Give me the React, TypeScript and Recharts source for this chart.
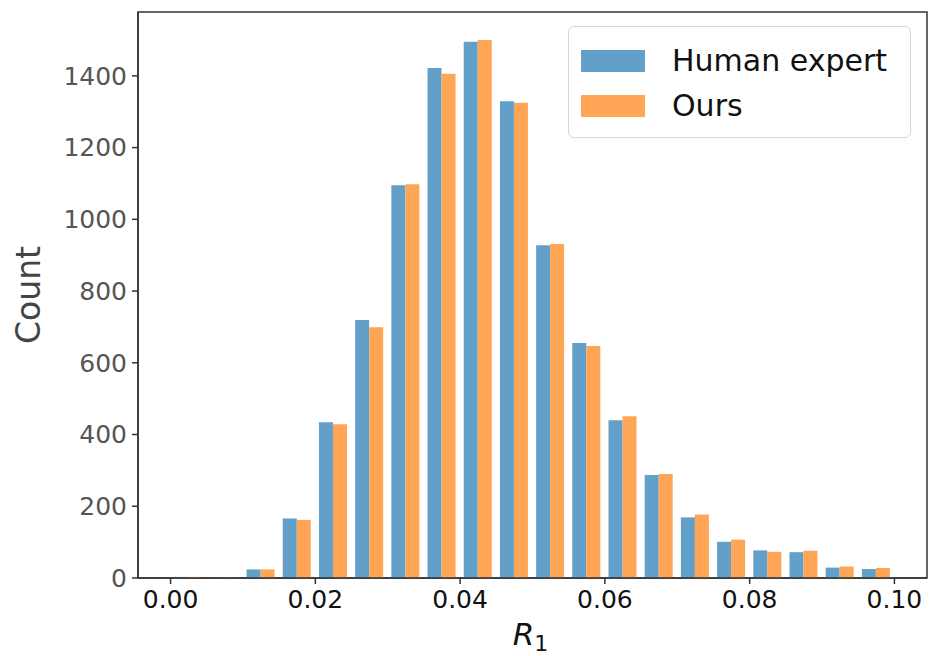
import { BarChart, Bar, XAxis, YAxis, Legend, ReferenceArea } from 'recharts'

const binCenters = [
  0.0025, 0.0075, 0.0125, 0.0175, 0.0225, 0.0275, 0.0325, 0.0375, 0.0425, 0.0475,
  0.0525, 0.0575, 0.0625, 0.0675, 0.0725, 0.0775, 0.0825, 0.0875, 0.0925, 0.0975,
]
const humanExpert = [3, 2, 24, 166, 434, 719, 1095, 1422, 1495, 1329, 928, 655, 440, 287, 169, 101, 77, 72, 29, 25]
const ours = [3, 2, 24, 162, 429, 699, 1098, 1406, 1500, 1325, 931, 647, 451, 290, 177, 107, 73, 76, 32, 28]
const xTicks = [0, 0.02, 0.04, 0.06, 0.08, 0.1]
const yTicks = [0, 200, 400, 600, 800, 1000, 1200, 1400]

const data = binCenters.map((x, i) => ({ x, human: humanExpert[i], ours: ours[i] }))

const BLUE = '#62a0ca'
const ORANGE = '#ffa556'
const X_DOMAIN = [-0.0045, 0.1045]
const Y_MAX = 1578

function LegendBox({ payload }: any) {
  return (
    <div
      style={{
        border: '1.5px solid #d6d6d6',
        borderRadius: 6,
        background: 'rgba(255,255,255,0.85)',
        padding: '11px 12px 9px 12px',
        width: 343,
        boxSizing: 'border-box',
        fontFamily: 'DejaVu Sans',
        fontSize: 30,
        color: '#111',
        textAlign: 'left',
      }}
    >
      {(payload || []).map((p: any) => (
        <div key={p.value} style={{ display: 'flex', alignItems: 'center', height: 45, whiteSpace: 'nowrap' }}>
          <span style={{ width: 64, height: 22, background: p.color, display: 'inline-block', marginRight: 27, flexShrink: 0 }} />
          <span>{p.value}</span>
        </div>
      ))}
    </div>
  )
}

function CountLabel({ viewBox }: any) {
  const cx = viewBox.x + 28
  const cy = viewBox.y + viewBox.height / 2
  return (
    <text
      x={cx}
      y={cy}
      textAnchor="middle"
      dominantBaseline="central"
      transform={`rotate(-90, ${cx}, ${cy})`}
      fontFamily="DejaVu Sans"
      fontSize={33}
      fill="#444"
    >
      Count
    </text>
  )
}

function R1Label({ viewBox }: any) {
  const cx = viewBox.x + viewBox.width / 2
  return (
    <text x={cx - 2} y={645} textAnchor="middle" fontFamily="DejaVu Sans" fontSize={31} fill="#111">
      <tspan fontStyle="italic">R</tspan>
      <tspan fontSize={22} dy={6}>1</tspan>
    </text>
  )
}

export default function App() {
  return (
    <div style={{ position: 'absolute', left: 0, top: 0, width: 930, height: 656, background: '#fff' }}>
      <BarChart
        width={930}
        height={656}
        data={data}
        margin={{ top: 12, right: 3, bottom: 0, left: 0 }}
        barGap={0}
        barCategoryGap="10%"
      >
        <XAxis
          dataKey="x"
          type="number"
          domain={X_DOMAIN}
          allowDataOverflow
          ticks={xTicks}
          tickFormatter={(v: number) => v.toFixed(2)}
          height={78}
          tickSize={6}
          tickMargin={6}
          axisLine={{ stroke: '#333', strokeWidth: 1.5 }}
          tickLine={{ stroke: '#333', strokeWidth: 1.5 }}
          tick={{ fill: '#111', fontSize: 25, fontFamily: 'DejaVu Sans' }}
          label={<R1Label />}
        />
        <YAxis
          type="number"
          domain={[0, Y_MAX]}
          allowDataOverflow
          ticks={yTicks}
          width={138}
          tickSize={6}
          tickMargin={5}
          axisLine={{ stroke: '#333', strokeWidth: 1.5 }}
          tickLine={{ stroke: '#333', strokeWidth: 1.5 }}
          tick={{ fill: '#555', fontSize: 25, fontFamily: 'DejaVu Sans' }}
          label={<CountLabel />}
        />
        <ReferenceArea
          x1={X_DOMAIN[0]}
          x2={X_DOMAIN[1]}
          y1={0}
          y2={Y_MAX}
          fill="none"
          stroke="#333"
          strokeWidth={1.5}
          ifOverflow="visible"
        />
        <Bar dataKey="human" name="Human expert" fill={BLUE} isAnimationActive={false} />
        <Bar dataKey="ours" name="Ours" fill={ORANGE} isAnimationActive={false} />
        <Legend
          layout="horizontal"
          verticalAlign="middle"
          align="center"
          content={<LegendBox />}
          wrapperStyle={{ position: 'absolute', left: 568, top: 26, width: 343, bottom: 'auto' }}
        />
      </BarChart>
    </div>
  )
}
